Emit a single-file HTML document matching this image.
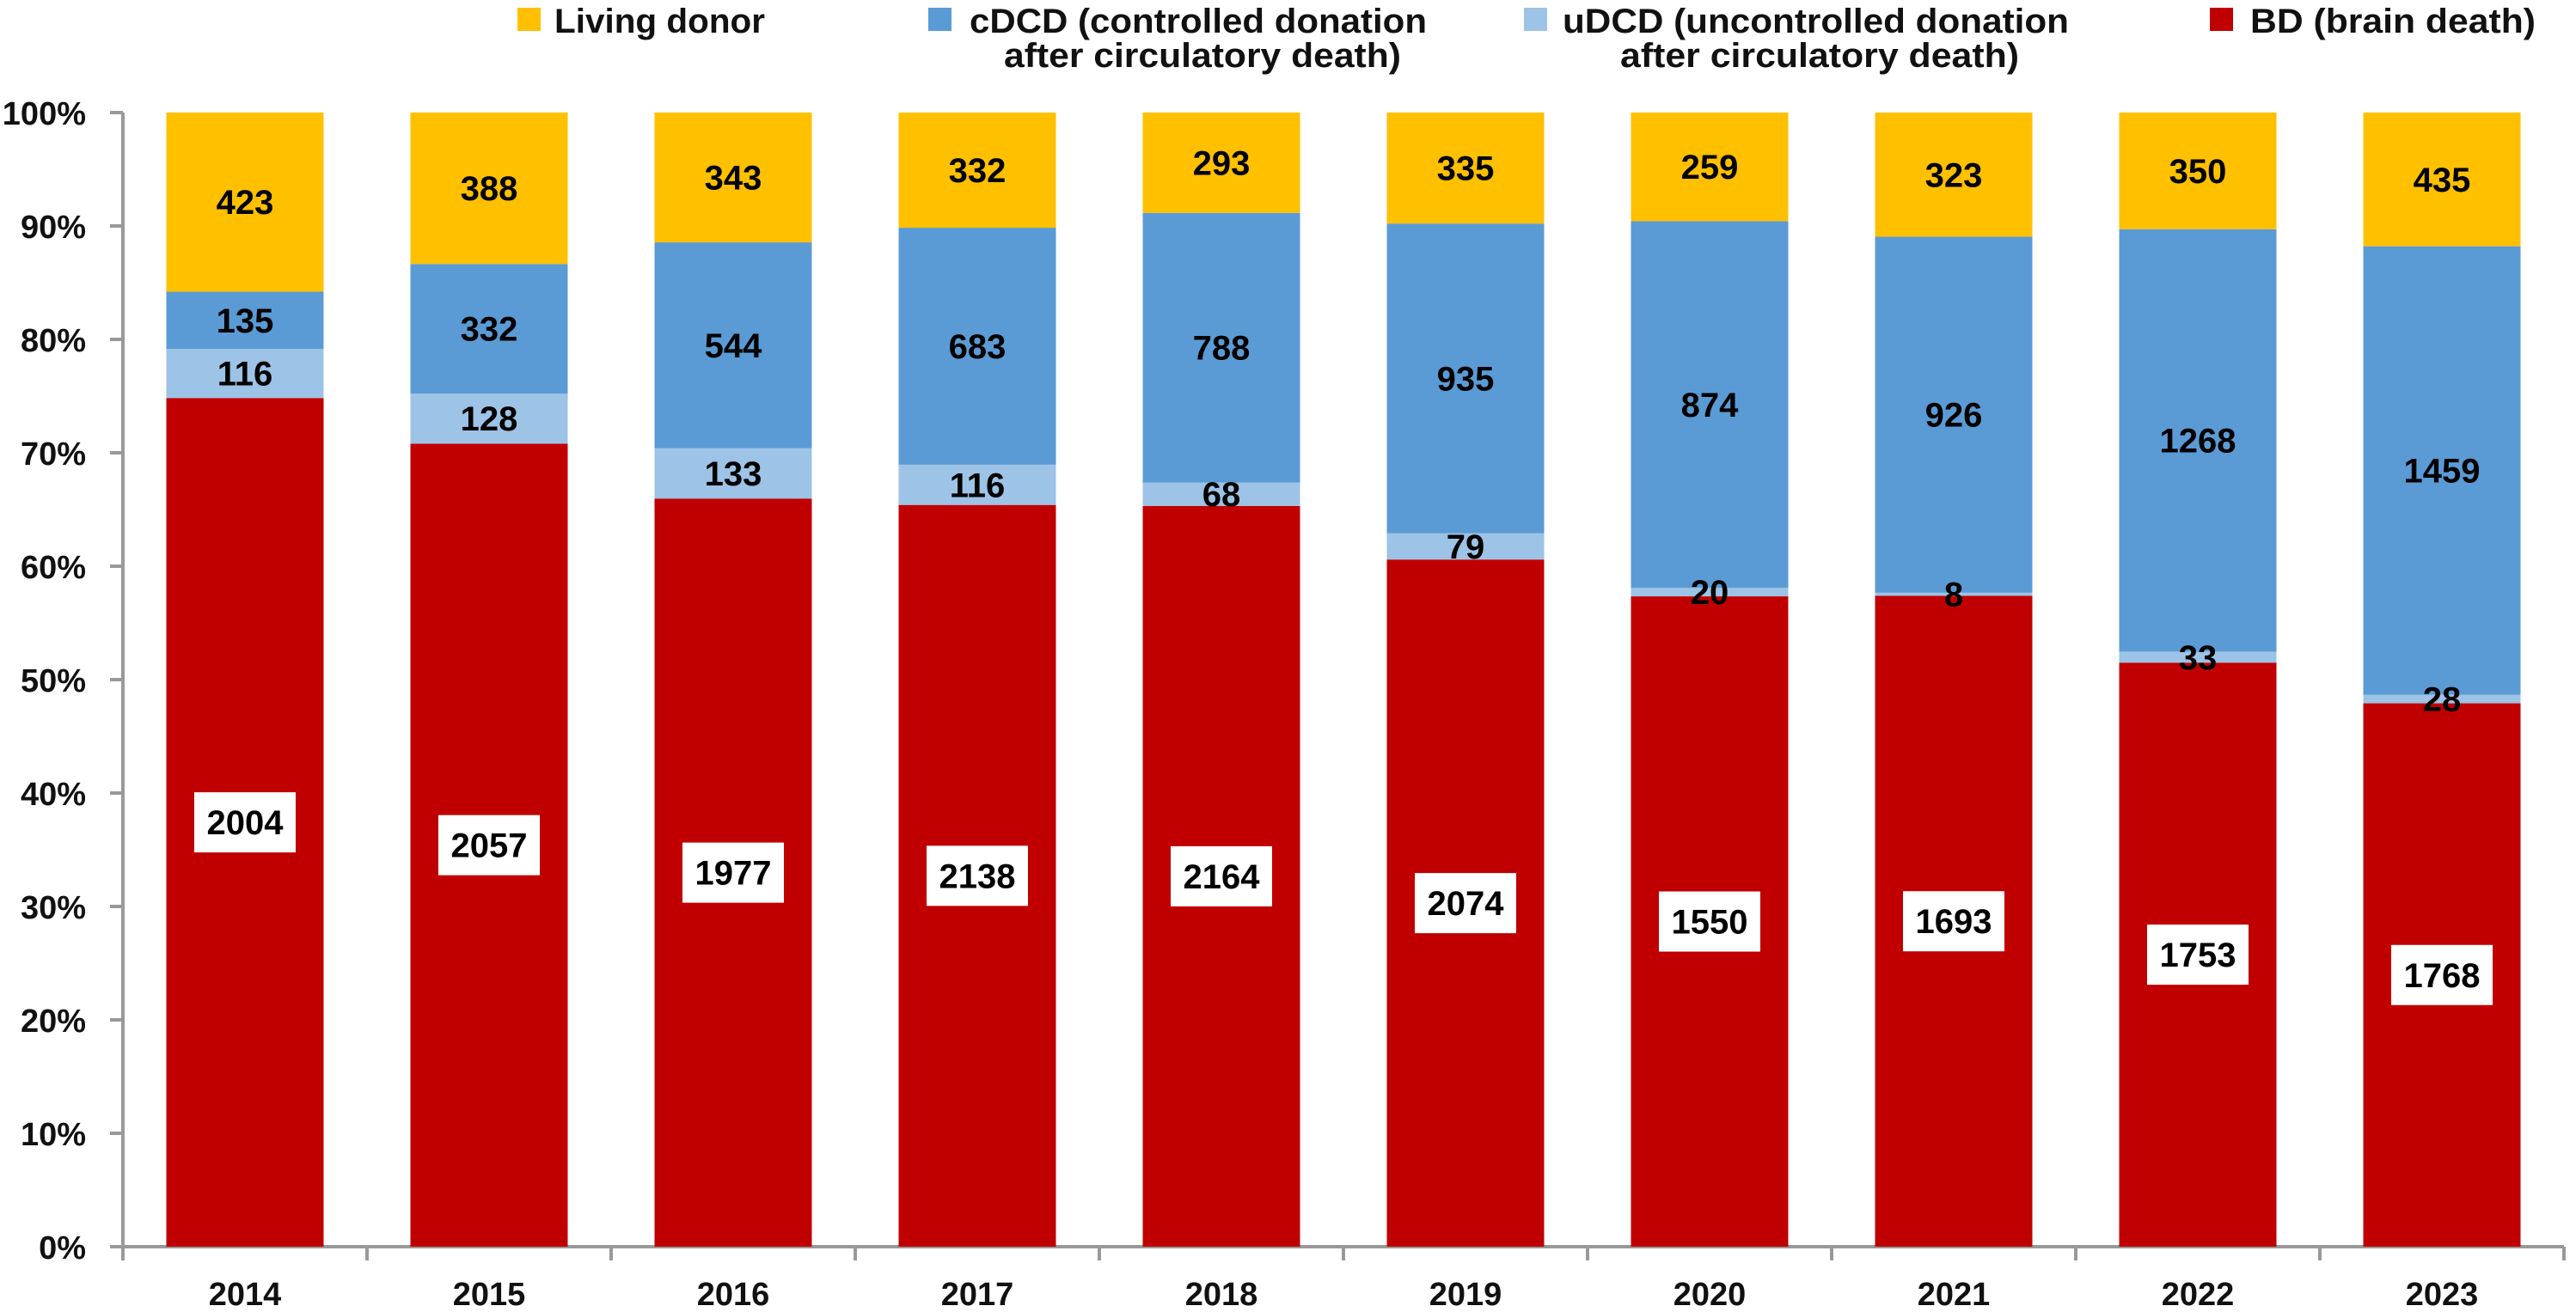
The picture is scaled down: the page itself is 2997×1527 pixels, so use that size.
<!DOCTYPE html>
<html><head><meta charset="utf-8"><style>
html,body{margin:0;padding:0;background:#fff;}
svg{display:block;font-family:"Liberation Sans",sans-serif;font-weight:bold;}
</style></head><body>
<svg id="chart" width="2997" height="1527" viewBox="0 0 2997 1527">
<g id="legend">
 <g>
  <rect x="602" y="9" width="27" height="27" fill="#FFC000"/>
  <text x="645" y="38" font-size="40" fill="#111" textLength="245" lengthAdjust="spacingAndGlyphs">Living donor</text>
 </g>
 <g>
  <rect x="1080" y="9" width="27" height="27" fill="#5B9BD5"/>
  <text x="1128" y="38" font-size="40" fill="#111" textLength="532" lengthAdjust="spacingAndGlyphs">cDCD (controlled donation</text>
  <text x="1168" y="78" font-size="40" fill="#111" textLength="462" lengthAdjust="spacingAndGlyphs">after circulatory death)</text>
 </g>
 <g>
  <rect x="1773" y="9" width="27" height="27" fill="#9DC3E6"/>
  <text x="1818" y="38" font-size="40" fill="#111" textLength="589" lengthAdjust="spacingAndGlyphs">uDCD (uncontrolled donation</text>
  <text x="1885" y="78" font-size="40" fill="#111" textLength="464" lengthAdjust="spacingAndGlyphs">after circulatory death)</text>
 </g>
 <g>
  <rect x="2571" y="9" width="27" height="27" fill="#C00000"/>
  <text x="2618" y="38" font-size="40" fill="#111" textLength="332" lengthAdjust="spacingAndGlyphs">BD (brain death)</text>
 </g>
</g>
<g id="axes"></g>
<g id="bars"></g>
</svg>
<script>
const years = ["2014","2015","2016","2017","2018","2019","2020","2021","2022","2023"];
const bd = [2004,2057,1977,2138,2164,2074,1550,1693,1753,1768];
const udcd = [116,128,133,116,68,79,20,8,33,28];
const cdcd = [135,332,544,683,788,935,874,926,1268,1459];
const living = [423,388,343,332,293,335,259,323,350,435];
const yTicks = ["0%","10%","20%","30%","40%","50%","60%","70%","80%","90%","100%"];

const NS="http://www.w3.org/2000/svg";
const X0=143, Y0=1451, Y1=131, CAT=284, BW=183;
function y(p){return Y0-(Y0-Y1)*p;}
function xCat(i){return X0+CAT*i;}
function mk(tag,attrs,parent){const e=document.createElementNS(NS,tag);for(const k in attrs)e.setAttribute(k,attrs[k]);parent.appendChild(e);return e;}
const axes=document.getElementById('axes'), bars=document.getElementById('bars');

let ya=mk('line',{x1:X0,y1:Y1,x2:X0,y2:Y0,stroke:'#999','stroke-width':4},axes);


yTicks.forEach((t,i)=>{
 const yy=y(i/10);
 const tk=mk('line',{x1:X0-15,y1:yy,x2:X0,y2:yy,stroke:'#999','stroke-width':4},axes);
 
 
 const tl=mk('text',{x:100,y:yy+14,'text-anchor':'end','font-size':38,fill:'#111'},axes);
 tl.textContent=t;
 
 
});
let xa=mk('line',{x1:X0-15,y1:Y0,x2:xCat(years.length),y2:Y0,stroke:'#999','stroke-width':4},axes);


for(let i=0;i<=years.length;i++){
 const tk=mk('line',{x1:xCat(i),y1:Y0,x2:xCat(i),y2:Y0+16,stroke:'#999','stroke-width':4},axes);
 
 
}
years.forEach((yr,i)=>{
 const tl=mk('text',{x:xCat(i)+CAT/2,y:1519,'text-anchor':'middle','font-size':38,fill:'#111'},axes);
 tl.textContent=yr;
 
 
});

const series=[
 {name:'bd',vals:bd,color:'#C00000',box:true},
 {name:'udcd',vals:udcd,color:'#9DC3E6'},
 {name:'cdcd',vals:cdcd,color:'#5B9BD5'},
 {name:'living',vals:living,color:'#FFC000'}
];
years.forEach((yr,i)=>{
 const total=bd[i]+udcd[i]+cdcd[i]+living[i];
 let cum=0;
 const bx=xCat(i)+(CAT-BW)/2;
 series.forEach(s=>{
  const v=s.vals[i];
  const top=y((cum+v)/total), bot=y(cum/total);
  const r=mk('rect',{x:bx,y:top,width:BW,height:bot-top,fill:s.color},bars);
  
  
  cum+=v;
 });
 cum=0;
 series.forEach(s=>{
  const v=s.vals[i];
  const top=y((cum+v)/total), bot=y(cum/total);
  const cy=(top+bot)/2, cx=bx+BW/2;
  if(s.box){
   const b=mk('rect',{x:cx-59,y:cy-35,width:118,height:70,fill:'#fff'},bars);
   
   
  }
  const t=mk('text',{x:cx,y:cy+14,'text-anchor':'middle','font-size':40,fill:'#000'},bars);
  t.textContent=v;
  
  
  cum+=v;
 });
});
</script>
</body></html>
